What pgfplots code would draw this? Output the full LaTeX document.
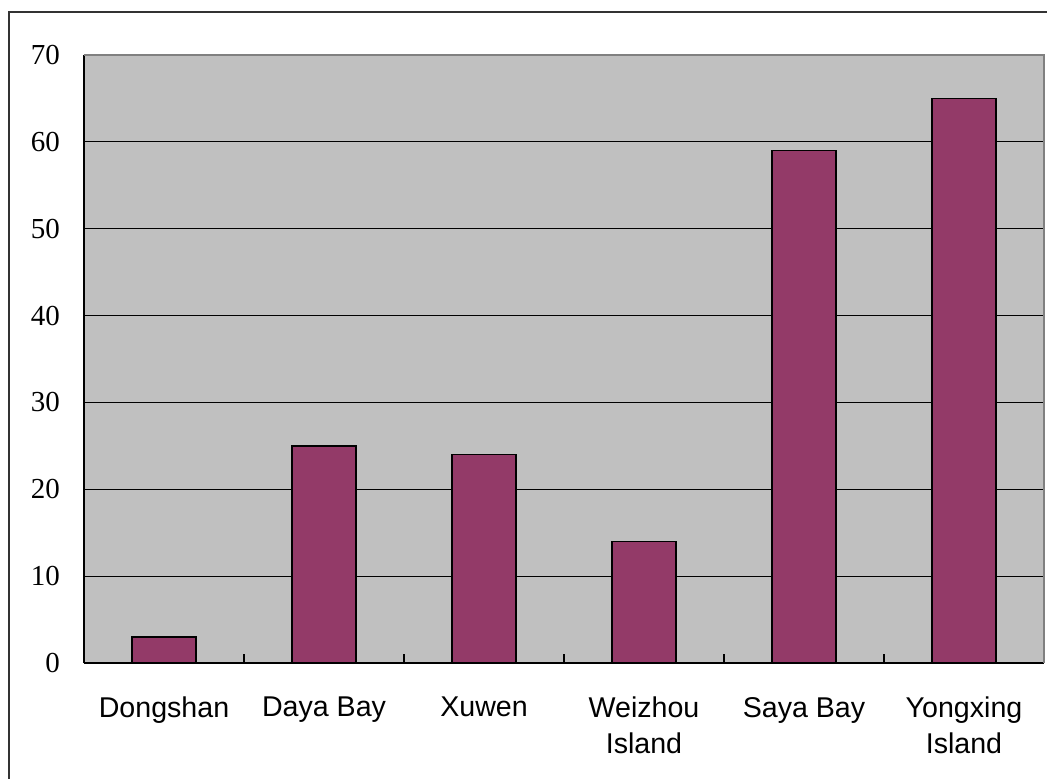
\documentclass[border=0pt]{standalone}
\usepackage{fontspec}
\setmainfont{Liberation Sans}
\newfontfamily\serifnum{Liberation Serif}
\usepackage{pgfplots}
\pgfplotsset{compat=1.18}

\definecolor{plotbg}{HTML}{C0C0C0}
\definecolor{barcol}{HTML}{933A68}
\definecolor{edgegray}{HTML}{808080}

\begin{document}
\begin{tikzpicture}
  \useasboundingbox (-42pt,-57.5pt) rectangle (481.5pt,331.5pt);
  % outer chart frame (right and bottom edges fall outside the picture)
  \draw[line width=1pt, black!80] (-37.5pt,-80pt) -- (-37.5pt,325.5pt) -- (500pt,325.5pt);

  \begin{axis}[
      at={(0,0)}, anchor=south west,
      scale only axis,
      width=480pt, height=304pt,
      ybar, bar width=32pt,
      xmin=-0.5, xmax=5.5,
      ymin=0, ymax=70,
      axis lines*=left,
      axis line style={line width=0.8pt, black},
      axis background/.style={fill=plotbg},
      xtick={0,1,2,3,4,5},
      xticklabels={Dongshan, Daya Bay, Xuwen, {Weizhou\\Island}, Saya Bay, {Yongxing\\Island}},
      major x tick style={draw=none},
      minor xtick={0.5,1.5,2.5,3.5,4.5},
      minor x tick style={black, line width=0.6pt},
      minor tick length=4.5pt,
      ytick={0,10,...,70},
      major y tick style={black, line width=0.6pt},
      major tick length=4.5pt,
      tick align=inside,
      ymajorgrids,
      grid style={black, line width=0.5pt},
      xticklabel style={font=\fontsize{14.3}{18}\selectfont, align=center, yshift=-13.5pt},
      yticklabel style={font=\serifnum\fontsize{14.5}{16}\selectfont, xshift=-8.5pt},
      /pgf/number format/assume math mode=true,
      clip=false,
    ]
    \addplot[fill=barcol, draw=black, line width=0.8pt] coordinates {
      (0,3) (1,25) (2,24) (3,14) (4,59) (5,65)
    };
    \draw[edgegray, line width=0.8pt] (rel axis cs:0,1) -- (rel axis cs:1,1) -- (rel axis cs:1,0);
  \end{axis}
\end{tikzpicture}
\end{document}
